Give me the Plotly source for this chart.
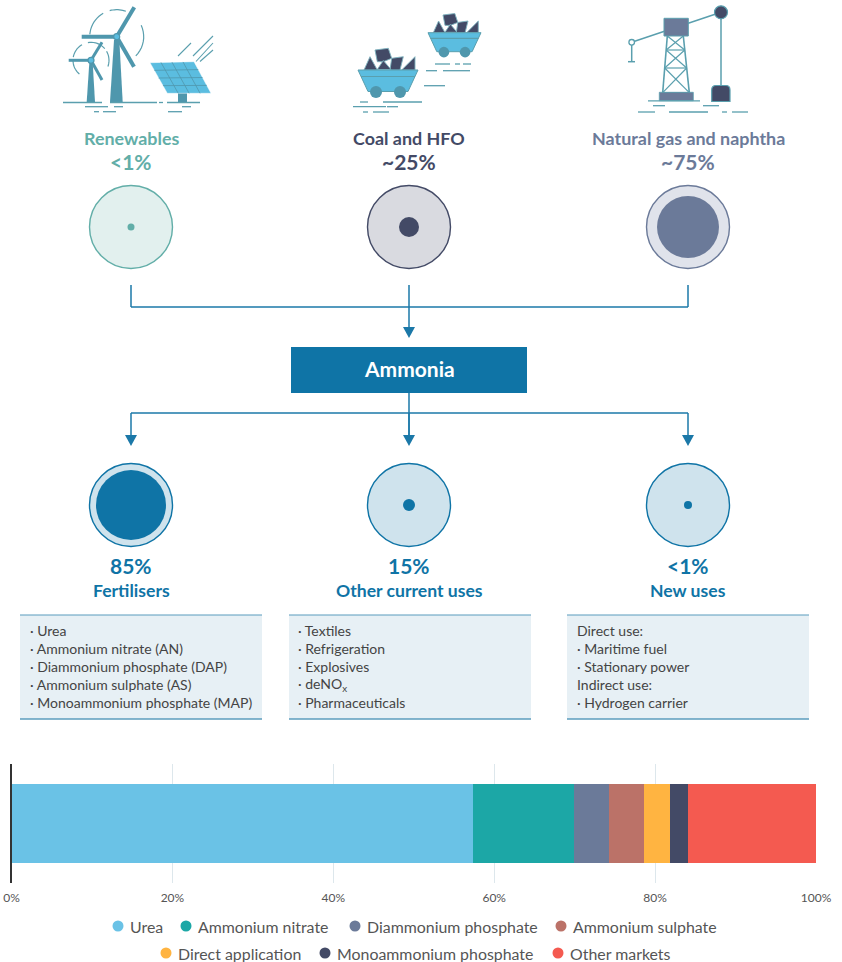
import math
import plotly.graph_objects as go

# ---------- chart data ----------
categories = ["Urea", "Ammonium nitrate", "Diammonium phosphate", "Ammonium sulphate",
              "Direct application", "Monoammonium phosphate", "Other markets"]
shares = [57.4, 12.5, 4.4, 4.3, 3.3, 2.2, 15.9]
bar_colors = ["#6AC2E6", "#1CA7A6", "#6B7A99", "#BB7268", "#FFB441", "#434A66", "#F45A50"]
tick_values = [0, 20, 40, 60, 80, 100]
tick_labels = ["0%", "20%", "40%", "60%", "80%", "100%"]
legend_rows = [[(118, 0), (186, 1), (355, 2), (561, 3)], [(166, 4), (325, 5), (558, 6)]]

source_names = ["Renewables", "Coal and HFO", "Natural gas and naphtha"]
source_shares = ["<1%", "~25%", "~75%"]
use_names = ["Fertilisers", "Other current uses", "New uses"]
use_shares = ["85%", "15%", "<1%"]
use_lists = [
    ["· Urea", "· Ammonium nitrate (AN)", "· Diammonium phosphate (DAP)",
     "· Ammonium sulphate (AS)", "· Monoammonium phosphate (MAP)"],
    ["· Textiles", "· Refrigeration", "· Explosives", "· deNO<sub>x</sub>", "· Pharmaceuticals"],
    ["Direct use:", "· Maritime fuel", "· Stationary power", "Indirect use:", "· Hydrogen carrier"],
]

FONT = "Lato"
TEAL = "#5A9FAE"
SKY = "#5BBDE0"
NAVY = "#434A66"
SLATE = "#6B7A99"
BLUE = "#0F74A6"
GREEN = "#62AEA8"
W, H = 842, 962

fig = go.Figure()
for name, val, col in zip(categories, shares, bar_colors):
    fig.add_trace(go.Bar(y=["Share"], x=[val], name=name, orientation="h",
                         marker=dict(color=col, line=dict(width=0)), showlegend=False,
                         hovertemplate=name + ": %{x}%<extra></extra>"))
# anchor for the full-page drawing axes
fig.add_trace(go.Scatter(x=[0, W], y=[0, H], xaxis="x2", yaxis="y2", mode="lines",
                         line=dict(width=0), hoverinfo="skip", showlegend=False))

shapes, notes = [], []


def S(**k):
    k.setdefault("xref", "x2")
    k.setdefault("yref", "y2")
    shapes.append(k)


def line(x0, y0, x1, y1, c=TEAL, w=1.5):
    S(type="line", x0=x0, y0=y0, x1=x1, y1=y1, line=dict(color=c, width=w))


def circle(cx, cy, r, fill, stroke=None, w=1.5):
    S(type="circle", x0=cx - r, x1=cx + r, y0=cy - r, y1=cy + r, fillcolor=fill,
      line=dict(color=stroke or fill, width=w if stroke else 0))


def rect(x0, y0, x1, y1, fill, stroke=None, w=1.5):
    S(type="rect", x0=x0, x1=x1, y0=y0, y1=y1, fillcolor=fill,
      line=dict(color=stroke or fill, width=w if stroke else 0))


def poly(pts, fill, stroke=None, w=1.0):
    d = "M " + " L ".join(f"{x:.1f},{y:.1f}" for x, y in pts) + " Z"
    S(type="path", path=d, fillcolor=fill, line=dict(color=stroke or fill, width=w if stroke else 0))


def arc(cx, cy, r, a0, a1, c=TEAL, w=1.2):
    pts = [(cx + r * math.cos(math.radians(a0 + (a1 - a0) * i / 10)),
            cy + r * math.sin(math.radians(a0 + (a1 - a0) * i / 10))) for i in range(11)]
    d = "M " + " L ".join(f"{x:.1f},{y:.1f}" for x, y in pts)
    S(type="path", path=d, line=dict(color=c, width=w))


def text(x, y, t, size, color, bold=False, anchor="center"):
    notes.append(dict(xref="x2", yref="y2", x=x, y=y, text=f"<b>{t}</b>" if bold else t, showarrow=False,
                      xanchor=anchor, yanchor="middle", align=anchor, borderpad=0,
                      font=dict(family=FONT, size=size, color=color)))


def dashes(y, spans, w=1.3):
    for a, b in spans:
        line(a, y, b, y, TEAL, w)


# ---------- wind and solar icon ----------
for cx, cy, r, spans in [(116.7, 36.7, 27, [(185, 240), (255, 290), (335, 405)]),
                         (91, 60.3, 18, [(130, 180), (190, 240), (260, 320), (330, 380)])]:
    for a, b in spans:
        arc(cx, cy, r, a, b)
poly([(110, 102), (122.7, 102), (119.3, 40), (114, 40)], "#4F97AD")
poly([(86.7, 102), (95, 102), (92.7, 63), (89.3, 63)], "#4F97AD")
for hub, blades, bw in [((116.7, 36.7), [(134.3, 7.3), (81.7, 36.7), (134, 66.7)], 4),
                        ((91, 60.3), [(102, 42.3), (68.7, 60.3), (102, 80)], 3)]:
    for bx, by in blades:
        line(hub[0], hub[1], bx, by, "#4F97AD", bw)
    circle(hub[0], hub[1], 3, SKY, "#4F97AD", 1.2)
dashes(102.5, [(63, 102), (110, 157), (159, 163), (167, 200)])
dashes(106.7, [(85, 108), (114, 123), (182, 191)])
dashes(111.7, [(94, 99), (103, 116), (168, 182)])
panel = [(150, 62.7), (194, 61.7), (211, 93.3), (167.3, 93.3)]
rect(178, 93, 187, 102, "#4F97AD")
poly(panel, SKY, "#FFFFFF", 0.5)
for i in range(1, 4):
    t = i / 4
    line(panel[0][0] + (panel[1][0] - panel[0][0]) * t, panel[0][1] + (panel[1][1] - panel[0][1]) * t,
         panel[3][0] + (panel[2][0] - panel[3][0]) * t, 93.3, "#4F97AD", 0.8)
    ax, ay = panel[0][0] + (panel[3][0] - panel[0][0]) * t, panel[0][1] + (panel[3][1] - panel[0][1]) * t
    bx, by = panel[1][0] + (panel[2][0] - panel[1][0]) * t, panel[1][1] + (panel[2][1] - panel[1][1]) * t
    line(ax, ay, bx, by, "#4F97AD", 0.8)
for a, b, c, d in [(178, 56, 191, 43), (193, 56, 213, 36), (196, 61.5, 213, 43), (200, 61.5, 213, 50)]:
    line(a, b, c, d, TEAL, 1.1)


# ---------- mine carts ----------
lumps = [
    [(364, 70), (370, 56.7), (377.3, 70)],
    [(375, 50), (388.3, 48.3), (391.7, 58.3), (383.3, 61.7), (377.3, 61.7)],
    [(391.7, 58.3), (403.3, 56.7), (400, 70), (390, 70)],
    [(377.3, 69.5), (383.3, 60.5), (391, 69.5)],
    [(401.7, 70), (415, 56.7), (415, 70)],
]


def cart(x0, yt, k):
    def tr(pt):
        return (x0 + (pt[0] - 358) * k, yt + (pt[1] - 70) * k)
    for lump in lumps:
        poly([tr(p) for p in lump], NAVY, "#7FB3BF", 0.9)
    poly([tr(p) for p in [(358, 70), (418, 70), (408, 91.5), (368, 91.5)]], SKY, TEAL, 1.0)
    a, b = tr((361, 76.5)), tr((415, 76.5))
    line(a[0], a[1], b[0], b[1], TEAL, 1.2)
    for wx in (376, 400):
        c = tr((wx, 92))
        circle(c[0], c[1], 6 * k, "#4F97AD")


cart(358, 70, 1.0)
cart(428, 32.7, 0.883)
dashes(64, [(435, 450), (455, 460), (463, 471)])
dashes(70.7, [(426, 437), (443, 470)])
dashes(85.7, [(424, 445)])
dashes(102, [(360, 368), (383, 422)])
dashes(106.7, [(353, 386), (387, 398)])
dashes(112, [(363, 368), (373, 389)])

# ---------- pump jack icon ----------
line(631.7, 42.3, 721, 12.3, TEAL, 1.5)
line(631.7, 42.3, 631.7, 61.7, TEAL, 1.5)
line(628, 61.7, 635, 61.7, TEAL, 1.5)
circle(631.7, 42.3, 2.8, "#FFFFFF", TEAL, 1.3)
line(721, 12.3, 721, 86, TEAL, 1.5)
circle(721, 12.3, 6.5, NAVY, TEAL, 1.2)
S(type="path", path="M 711.7,101.5 L 711.7,90 Q 711.7,85.5 716,85.5 L 726,85.5 Q 730,85.5 730,90 L 730,101.5 Z",
  fillcolor=NAVY, line=dict(color=TEAL, width=1.2))
LT = (667.3, 36)
RT = (683.3, 36)
LB = (662.7, 92.7)
RB = (689.3, 92.7)
line(*LT, *LB, TEAL, 1.6)
line(*RT, *RB, TEAL, 1.6)
levels = [36, 50, 68, 92.7]
for i in range(3):
    y0, y1 = levels[i], levels[i + 1]
    f0, f1 = (y0 - 36) / 56.7, (y1 - 36) / 56.7
    lx0, rx0 = 667.3 - 4.6 * f0, 683.3 + 6 * f0
    lx1, rx1 = 667.3 - 4.6 * f1, 683.3 + 6 * f1
    line(lx0, y0, rx1, y1, TEAL, 1.2)
    line(rx0, y0, lx1, y1, TEAL, 1.2)
    line(lx1, y1, rx1, y1, TEAL, 1.2)
rect(664, 18.3, 688.3, 36, SLATE, TEAL, 1)
rect(659.3, 92.3, 693.3, 100.7, SLATE, TEAL, 0.8)
dashes(100.8, [(648, 700)])
dashes(105.7, [(653, 665), (703, 719)])
dashes(112, [(638, 655), (669, 708), (722, 727), (732, 748)])

# ---------- circles ----------
source_x = [131, 409, 688]
src_col = [GREEN, NAVY, SLATE]
src_fill = ["#E2F0EE", "#D9DAE0", "#E0E3EB"]
src_inner = [3.5, 10, 31]
for x, n, s, c, f, r in zip(source_x, source_names, source_shares, src_col, src_fill, src_inner):
    text(x, 137.5, n, 17.9, c, True)
    text(x, 161.5, s, 21, c, True)
    circle(x, 227, 41.5, f, c, 1.4)
    circle(x, 227, r, c)

use_inner = [35, 6, 4]
for x, n, s, r in zip(source_x, use_names, use_shares, use_inner):
    circle(x, 505, 41.5, "#CFE3ED", BLUE, 1.4)
    circle(x, 505, r, BLUE)
    text(x, 565.5, s, 21, BLUE, True)
    text(x, 590.5, n, 17.6, BLUE, True)

# ---------- connectors ----------
CONN = "#1B78A8"
line(131, 285, 131, 307, CONN)
line(688, 285, 688, 307, CONN)
line(131, 307, 688, 307, CONN)
line(409, 285, 409, 328, CONN)
poly([(403, 327), (415, 327), (409, 338)], CONN)
rect(291, 347, 527, 393, BLUE)
text(409, 368.5, "Ammonia", 21, "#FFFFFF", True)
line(409, 393, 409, 436, CONN)
line(131, 413, 688, 413, CONN)
for x in source_x:
    line(x, 413, x, 436, CONN)
    poly([(x - 6, 435), (x + 6, 435), (x, 446)], CONN)

# ---------- text boxes ----------
box_x = [(20, 262, 29), (289, 531, 297), (567, 809, 575.5)]
line_y = [630.5, 648.5, 666.5, 684.5, 702.5]
for (x0, x1, tx), lines in zip(box_x, use_lists):
    rect(x0, 615, x1, 719, "#E7F0F5")
    line(x0, 615, x1, 615, "#5B9CBD", 1.2)
    line(x0, 719, x1, 719, "#5B9CBD", 1.6)
    for y, t in zip(line_y, lines):
        text(tx, y, t, 14, "#444444", False, "left")

# ---------- legend ----------
for y, row in zip([926, 953], legend_rows):
    for x, i in row:
        circle(x, y, 5.5, bar_colors[i])
        text(x + 10.5, y, categories[i], 15.9, "#555555", False, "left")

fig.update_layout(
    width=W, height=H, margin=dict(l=0, r=0, t=0, b=0, autoexpand=False),
    paper_bgcolor="#FFFFFF", plot_bgcolor="rgba(0,0,0,0)",
    barmode="stack", bargap=0.34, showlegend=False, shapes=shapes, annotations=notes,
    font=dict(family=FONT, size=12, color="#555555"),
    xaxis=dict(domain=[11.5 / W, 816 / W], range=[0, 100], tickvals=tick_values, ticktext=tick_labels,
               showgrid=True, gridcolor="#DDE7EC", gridwidth=1, zeroline=False, showline=False,
               ticks="", ticklabelstandoff=6, tickfont=dict(size=12, color="#555555"), anchor="y",
               fixedrange=True, automargin=False),
    yaxis=dict(domain=[1 - 883 / H, 1 - 764 / H], showticklabels=False, showgrid=False, zeroline=False,
               showline=True, linecolor="#333333", linewidth=1.5, ticks="", anchor="x", fixedrange=True,
               automargin=False),
    xaxis2=dict(domain=[0, 1], range=[0, W], visible=False, anchor="y2", fixedrange=True, automargin=False),
    yaxis2=dict(domain=[0, 1], range=[H, 0], visible=False, anchor="x2", fixedrange=True, automargin=False),
)
fig.write_html("out.html", config=dict(displayModeBar=False),
               post_script="document.body.style.margin='0';")
